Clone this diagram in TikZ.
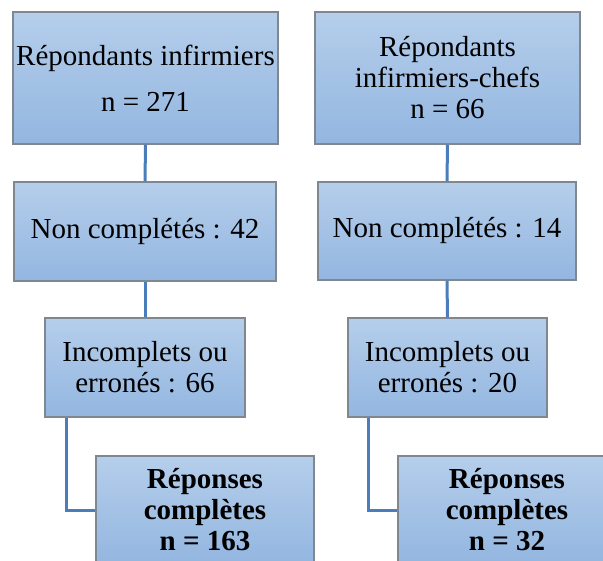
\documentclass[tikz,border=0pt]{standalone}
\usepackage{fontspec}
\setmainfont{Liberation Serif}
\definecolor{boxtop}{HTML}{B5CEEB}
\definecolor{boxbot}{HTML}{93B6E0}
\definecolor{boxgray}{HTML}{7F8790}
\definecolor{linkblue}{HTML}{4A7EBB}
\begin{document}
\begin{tikzpicture}[x=1pt,y=-1pt,
  box/.style={draw=boxgray, line width=1.5pt, top color=boxtop, bottom color=boxbot,
    inner sep=0pt, align=center, text=black, font=\fontsize{29}{31}\selectfont},
  link/.style={draw=linkblue, line width=3pt}]
\useasboundingbox (0,0) rectangle (603,561);
\clip (0,0) rectangle (603,561);
% nodes
\node[box, minimum width=265pt, minimum height=132pt] (b1) at (145.5,78)
  {Répondants infirmiers\\[15pt]n = 271};
\node[box, minimum width=265pt, minimum height=132pt] (b2) at (447.5,78)
  {Répondants\\infirmiers-chefs\\n = 66};
\node[box, minimum width=262pt, minimum height=99pt] (b3) at (145,231.5)
  {Non complétés : 42};
\node[box, minimum width=258pt, minimum height=98pt] (b4) at (447,231)
  {Non complétés : 14};
\node[box, minimum width=200pt, minimum height=99pt] (b5) at (145,367.5)
  {Incomplets ou\\erronés : 66};
\node[box, minimum width=199pt, minimum height=99pt] (b6) at (447.5,367.5)
  {Incomplets ou\\erronés : 20};
\node[box, minimum width=218pt, minimum height=108pt, font=\fontsize{29}{31}\selectfont\bfseries] (b7) at (205,510)
  {Réponses\\complètes\\n = 163};
\node[box, minimum width=218pt, minimum height=108pt, font=\fontsize{29}{31}\selectfont\bfseries] (b8) at (507,510)
  {Réponses\\complètes\\n = 32};
% connectors
\draw[link] (b1.south) -- (b3.north);
\draw[link] (b3.south) -- (b5.north);
\draw[link] (b2.south) -- (b4.north);
\draw[link] (b4.south) -- (b6.north);
\draw[link] ([xshift=-79pt]b5.south) |- (b7.west);
\draw[link] ([xshift=-79.5pt]b6.south) |- (b8.west);
\end{tikzpicture}
\end{document}
